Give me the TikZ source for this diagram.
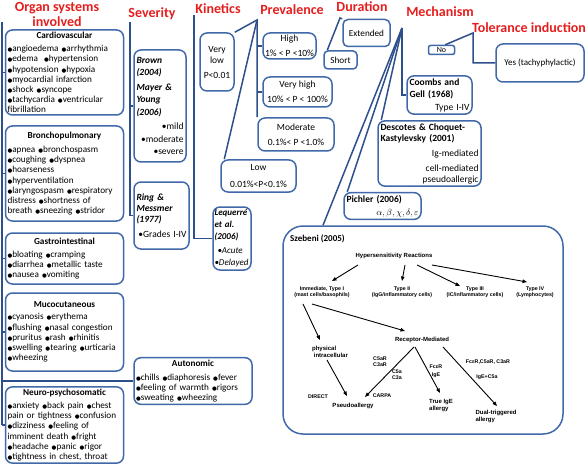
\documentclass[tikz,border=0pt]{standalone}
\usepackage{fontspec}
\setmainfont{Carlito}
\newfontfamily\arialfont{Liberation Sans}
\newfontfamily\symfont{DejaVu Sans}
\usetikzlibrary{arrows.meta,calc}
\definecolor{boxblue}{RGB}{65,105,170}
\definecolor{lineblue}{RGB}{45,80,140}
\definecolor{titlered}{RGB}{230,30,30}
\newcommand{\bu}{{\symfont\fontsize{5.5}{6}\selectfont ●}}
\hyphenpenalty=10000
\exhyphenpenalty=10000

\begin{document}
\begin{tikzpicture}[x=1pt, y=-1pt,
	box/.style={draw=boxblue, line width=1.5pt, rounded corners=7pt, fill=white, inner sep=2.5pt, align=left, font=\fontsize{9.2}{10.2}\selectfont},
	heading/.style={text=titlered, font=\bfseries\fontsize{14}{15}\selectfont, inner sep=0pt, align=center},
	link/.style={draw=lineblue, line width=1.5pt},
	szlabel/.style={font=\arialfont\bfseries\fontsize{5.3}{6.3}\selectfont, align=center, inner sep=0.5pt},
	szbig/.style={szlabel, font=\arialfont\bfseries\fontsize{6}{7}\selectfont},
	szarrow/.style={-{Triangle[length=4.5pt,width=3.5pt]}, line width=0.9pt}]
	\useasboundingbox (0,0) rectangle (588,465);

	\node (orgtitle) at (57,14.5)[heading]{Organ systems\\involved};
	\node (sevtitle) at (152,14)[heading]{Severity};
	\node (kintitle) at (218,9)[heading]{Kinetics};
	\node (prvtitle) at (292,10)[heading]{Prevalence};
	\node (durtitle) at (362,7)[heading]{Duration};
	\node (mectitle) at (440,12)[heading]{Mechanism};
	\node (toltitle) at (529,28)[heading]{Tolerance induction};

	\node (cardio) at (64.5,72.5)[box, text width=114pt, inner sep=2pt, minimum height=85pt]{{\centering\bfseries Cardiovascular\par}\vspace{3pt}
		\bu angioedema \bu arrhythmia\\
		\bu edema \ \bu hypertension\\
		\bu hypotension \bu hypoxia\\
		\bu myocardial infarction\\
		\bu shock \bu syncope\\
		\bu tachycardia \bu ventricular\\
		fibrillation};
	\node (broncho) at (64.5,173.5)[box, text width=114pt, inner sep=2pt, minimum height=95pt]{{\centering\bfseries Bronchopulmonary\par}\vspace{4pt}
		\bu apnea \bu bronchospasm\\
		\bu coughing \bu dyspnea\\
		\bu hoarseness\\
		\bu hyperventilation\\
		\bu laryngospasm \bu respiratory\\
		distress \bu shortness of\\
		breath \bu sneezing \bu stridor};
	\node (gastro) at (64.5,258.5)[box, text width=114pt, inner sep=2pt, minimum height=51pt]{{\centering\bfseries Gastrointestinal\par}\vspace{3pt}
		\bu bloating \bu cramping\\
		\bu diarrhea \bu metallic taste\\
		\bu nausea \bu vomiting};
	\node (muco) at (64.5,332)[box, text width=114pt, inner sep=2pt, minimum height=78pt]{{\centering\bfseries Mucocutaneous\par}\vspace{2pt}
		\bu cyanosis \bu erythema\\
		\bu flushing \bu nasal congestion\\
		\bu pruritus \bu rash \bu rhinitis\\
		\bu swelling \bu tearing \bu urticaria\\
		\bu wheezing};
	\node (neuro) at (64.5,425)[box, text width=114pt, inner sep=2pt, minimum height=74pt]{{\centering\bfseries Neuro-psychosomatic\par}\vspace{3pt}
		\bu anxiety \bu back pain \bu chest\\
		pain or tightness \bu confusion\\
		\bu dizziness \bu feeling of\\
		imminent death \bu fright\\
		\bu headache \bu panic \bu rigor\\
		\bu tightness in chest, throat};
	\node (autonomic) at (193,381)[box, text width=114pt, inner sep=2pt, minimum height=46pt]{{\centering\bfseries Autonomic\par}\vspace{4pt}
		\bu chills \bu diaphoresis \bu fever\\
		\bu feeling of warmth \bu rigors\\
		\bu sweating \bu wheezing};

	\node (brown) at (160,106)[box, text width=47pt, minimum height=112pt, font=\fontsize{9.5}{12.5}\selectfont]{{\bfseries\itshape Brown\\(2004)\\[2pt]Mayer \&\\Young\\(2006)}\\[2pt]
		\hspace*{\fill}\textbullet mild\\
		\hspace*{\fill}\textbullet moderate\\
		\hspace*{\fill}\textbullet severe\par\vspace{8pt}};
	\node (ring) at (161.5,215.5)[box, text width=50pt, minimum height=67pt, font=\fontsize{9.5}{11}\selectfont]{{\bfseries\itshape Ring \&\\Messmer\\(1977)}\\[4pt]
		\hspace*{\fill}\textbullet Grades I-IV\par\vspace{14pt}};

	\node (lequerre) at (232,238.5)[box, text width=35pt, inner sep=1.5pt, minimum height=63pt, font=\fontsize{9}{12}\selectfont]{{\bfseries\itshape Lequerr\'e\\et al.\\(2006)}\\[2pt]
		{\itshape\ \textbullet Acute\\ \textbullet Delayed}};

	\node (verylow) at (217,62)[box, align=center, minimum width=34pt, minimum height=58pt, font=\fontsize{9.5}{11}\selectfont]{Very\\low\\[4pt]P<0.01};
	\node (high) at (289.5,46)[box, align=center, minimum width=53pt, minimum height=26pt, inner sep=1pt, font=\fontsize{9.5}{11}\selectfont]{High\\[4pt]1\% < P <10\%};
	\node (veryhigh) at (297.5,92)[box, align=center, minimum width=69pt, minimum height=30pt, inner sep=1pt, font=\fontsize{9.5}{11}\selectfont]{Very high\\[4pt]10\% < P < 100\%};
	\node (moderate) at (296,134.5)[box, align=center, minimum width=76pt, minimum height=33pt, font=\fontsize{9.5}{11}\selectfont]{Moderate\\[4pt]0.1\%< P <1.0\%};
	\node (low) at (258.5,176)[box, align=center, minimum width=75pt, minimum height=32pt, font=\fontsize{9.5}{11}\selectfont]{Low\\[6pt]0.01\%<P<0.1\%};

	\node (short) at (340.5,60)[box, rounded corners=4pt, inner sep=1pt, minimum width=33pt, minimum height=18pt]{Short};
	\node (extended) at (366.5,33)[box, rounded corners=5pt, inner sep=1pt, minimum width=47pt, minimum height=27pt]{Extended};

	\node (coombs) at (439.5,95)[box, text width=60pt, minimum height=38pt, font=\fontsize{9.5}{12}\selectfont]{\textbf{Coombs and}\\
		\textbf{Gell (1968)}\\[1pt]
		\hspace*{\fill}Type I-IV};
	\node (descotes) at (429.5,153.5)[box, text width=98pt, minimum height=61pt, font=\fontsize{9.5}{11}\selectfont]{\textbf{Descotes \& Choquet-}\\
		\textbf{Kastylevsky (2001)}\\[4pt]
		\hspace*{\fill}Ig-mediated\\[4pt]
		\hspace*{\fill}cell-mediated\\
		\hspace*{\fill}pseudoallergic\par\vspace{3pt}};
	\node (pichler) at (382.5,206)[box, text width=72pt, minimum height=26pt, font=\fontsize{9.5}{13}\selectfont]{\textbf{Pichler (2006)}\\
		\hspace*{\fill}$\alpha,\beta,\chi,\delta,\varepsilon$};
	\node (szebeni) at (423,330)[box, rounded corners=20pt, minimum width=280pt, minimum height=208pt]{};

	\node (no) at (441.5,50)[box, rounded corners=2pt, inner sep=0pt, minimum width=26pt, minimum height=9pt, font=\fontsize{8}{8}\selectfont]{No};
	\node (yes) at (540,63)[box, minimum width=88pt, minimum height=38pt, font=\fontsize{9}{10}\selectfont]{Yes (tachyphylactic)};

	\node (szname) at (290,239)[anchor=west, inner sep=0pt, font=\bfseries\fontsize{9}{10}\selectfont]{Szebeni (2005)};
	\node (hyper) at (394,256)[szbig]{Hypersensitivity Reactions};
	\node (type1) at (322,292)[szlabel]{Immediate, Type I\\(mast cells/basophils)};
	\node (type2) at (402,292)[szlabel]{Type II\\(IgG/inflammatory cells)};
	\node (type3) at (475,292)[szlabel]{Type III\\(IC/inflammatory cells)};
	\node (type4) at (535,292)[szlabel]{Type IV\\(Lymphocytes)};
	\node (receptor) at (422,340)[szbig]{Receptor-Mediated};
	\node (physical) at (330,352)[szbig, align=left]{physical\\\ intracellular};
	\node (direct) at (318,397)[szlabel]{DIRECT};
	\node (pseudo) at (353,406)[szbig]{Pseudoallergy};
	\node (carpa) at (382,396)[szlabel]{CARPA};
	\node (c5ar) at (380,362)[szlabel, align=left]{C5aR\\C3aR};
	\node (c5a) at (397,375)[szlabel, align=left]{C5a\\C3a};
	\node (fcer) at (436,371)[szlabel]{FcεR\\[2pt]IgE};
	\node (trueige) at (441,406)[szbig, align=left]{True IgE\\allergy};
	\node (fcerall) at (488,362)[szlabel]{FcεR,C5aR, C3aR};
	\node (igec5a) at (487,377)[szlabel]{IgE+C5a};
	\node (dual) at (496,416)[szbig, align=left]{Dual-triggered\\allergy};

	\draw[szarrow] ($(hyper)+(-36,9)$) -- ($(type1)+(10,-11)$);
	\draw[szarrow] ($(hyper)+(11,9)$) -- ($(type2)+(0,-11)$);
	\draw[szarrow] ($(hyper)+(23,9)$) -- ($(type3)+(-15,-6)$);
	\draw[szarrow] ($(hyper)+(38,9)$) -- ($(type4)+(-8,-10)$);
	\draw[szarrow] ($(type1)+(-10,12)$) -- ($(receptor)+(-17,-9)$);
	\draw[szarrow] ($(type1)+(-19,12)$) -- ($(physical)+(-10,-12)$);
	\draw[szarrow] ($(physical)+(-3,8)$) -- ($(pseudo)+(-6,-10)$);
	\draw[szarrow] ($(receptor)+(-8,7)$) -- ($(pseudo)+(12,-9)$);
	\draw[szarrow] ($(receptor)+(-7,7)$) -- ($(trueige)+(-1,-13)$);
	\draw[szarrow] ($(receptor)+(21,7)$) -- ($(dual)+(1,-10)$);

	\coordinate (orgtop) at (2,22);
	\coordinate (sevtop) at (130,22);
	\coordinate (kintop) at (194,15);
	\coordinate (prvtop) at (257,20);
	\coordinate (durtop) at (340,18);
	\coordinate (mectop) at (402,28);
	\coordinate (toltop) at (473,33);

	\draw[link] (orgtop) -- (orgtop |- neuro.west);
	\foreach \sys in {cardio,broncho,gastro,muco,neuro,autonomic}
		\draw[link] (orgtop |- \sys.west) -- (\sys.west);
	\draw[link] (sevtop) -- (sevtop |- ring.west) -- (ring.west);
	\draw[link] (sevtop |- brown.west) -- (brown.west);
	\draw[link] (kintop) -- (kintop |- lequerre.west) -- (lequerre.west);
	\draw[link] (verylow.north east) -- (prvtop) -- (prvtop |- moderate.north);
	\draw[link] (prvtop |- high.west) -- (high.west);
	\draw[link] (prvtop |- veryhigh.west) -- (veryhigh.west);
	\draw[link] (prvtop) -- ([xshift=4pt]low.north west);
	\draw[link] ([xshift=4pt]short.north west) -- (durtop) -- (extended.north west);
	\draw[link] (mectop) -- (mectop |- coombs.west) -- (coombs.west);
	\draw[link] (mectop) -- ([xshift=4pt]descotes.north west);
	\draw[link] (mectop) -- ([xshift=4pt]pichler.north west);
	\draw[link] (mectop) -- ([xshift=-100pt]szebeni.north);
	\draw[link] ([xshift=-10pt]no.north east) -- (toltop) -- (toltop |- yes.west) -- (yes.west);
\end{tikzpicture}
\end{document}
